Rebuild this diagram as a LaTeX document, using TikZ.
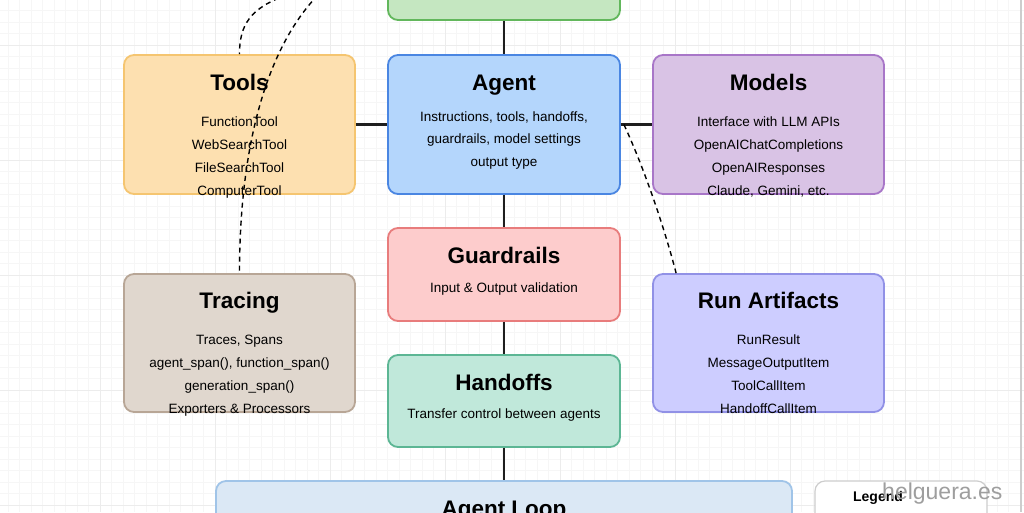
\documentclass[tikz,border=0pt]{standalone}
\usepackage{fontspec}
\setmainfont{Liberation Sans}
\usetikzlibrary{calc}
\definecolor{gridminor}{RGB}{246,246,246}
\definecolor{gridmajor}{RGB}{236,236,236}
\definecolor{greenF}{RGB}{197,231,193}\definecolor{greenD}{RGB}{98,183,92}
\definecolor{toolsF}{RGB}{253,224,176}\definecolor{toolsD}{RGB}{245,197,112}
\definecolor{agentF}{RGB}{180,214,252}\definecolor{agentD}{RGB}{74,134,226}
\definecolor{modelsF}{RGB}{217,195,229}\definecolor{modelsD}{RGB}{168,118,200}
\definecolor{guardF}{RGB}{253,204,204}\definecolor{guardD}{RGB}{232,124,124}
\definecolor{traceF}{RGB}{224,215,206}\definecolor{traceD}{RGB}{184,166,150}
\definecolor{runF}{RGB}{205,205,255}\definecolor{runD}{RGB}{145,145,230}
\definecolor{handF}{RGB}{192,232,218}\definecolor{handD}{RGB}{92,182,148}
\definecolor{loopF}{RGB}{219,232,245}\definecolor{loopD}{RGB}{160,196,232}
\definecolor{legD}{RGB}{205,205,205}
\definecolor{linkC}{RGB}{30,30,30}
\tikzset{
  box/.style={rectangle, rounded corners=10pt, line width=1.8pt, inner sep=0pt},
  ttl/.style={font=\fontsize{22.5}{26}\selectfont\bfseries, inner sep=0pt, text height=16.2pt, text depth=0pt},
  bdy/.style={font=\fontsize{13.5}{16}\selectfont, inner sep=0pt, anchor=base},
  link/.style={draw=linkC, line width=2.2pt},
  dlink/.style={draw=black, line width=1.4pt, dash pattern=on 5pt off 4pt}
}
\begin{document}
\begin{tikzpicture}[x=1pt,y=-1pt]
\useasboundingbox (0,0) rectangle (1024,512);
\clip (0,0) rectangle (1024,512);
\fill[white] (0,0) rectangle (1024,512);
% grid
\foreach \i in {0,...,90} {\draw[gridminor, line width=0.6pt] ({-15+\i*11.5},0) -- ({-15+\i*11.5},512);}
\foreach \i in {0,...,46} {\draw[gridminor, line width=0.6pt] (0,{-12.5+\i*11.5}) -- (1024,{-12.5+\i*11.5});}
\foreach \i in {0,...,9} {\draw[gridmajor, line width=0.8pt] ({-15+\i*115},0) -- ({-15+\i*115},512);}
\foreach \i in {0,...,5} {\draw[gridmajor, line width=0.8pt] (0,{45+\i*115-115}) -- (1024,{45+\i*115-115});}
\draw[legD, line width=1.5pt] (1021,0) -- (1021,512);

% boxes
\node[box, fill=greenF, draw=greenD, minimum width=232, minimum height=90] (top) at (504,-25) {};
\node[box, fill=agentF, draw=agentD, minimum width=232, minimum height=139] (agent) at (504,124.5) {};
\node[box, fill=toolsF, draw=toolsD, minimum width=231, minimum height=139] (tools) at (239.5,124.5) {};
\node[box, fill=modelsF, draw=modelsD, minimum width=231, minimum height=139] (models) at (768.5,124.5) {};
\node[box, fill=guardF, draw=guardD, minimum width=232, minimum height=93] (guard) at (504,274.5) {};
\node[box, fill=traceF, draw=traceD, minimum width=231, minimum height=138] (tracing) at (239.5,343) {};
\node[box, fill=runF, draw=runD, minimum width=231, minimum height=138] (runart) at (768.5,343) {};
\node[box, fill=handF, draw=handD, minimum width=232, minimum height=92] (handoffs) at (504,401) {};
\node[box, fill=loopF, draw=loopD, minimum width=576, minimum height=100] (loop) at (504,531) {};
\node[box, fill=white, draw=legD, line width=1.2pt, minimum width=172, minimum height=100] (legend) at (901,531) {};

% connectors
\draw[link] (top.south) -- (agent.north);
\draw[link] (tools.east) -- (agent.west);
\draw[link] (agent.east) -- (models.west);
\draw[link] (agent.south) -- (guard.north);
\draw[link] (guard.south) -- (handoffs.north);
\draw[link] (handoffs.south) -- (loop.north);

% texts
\node[ttl] (toolsT) at (239.5,82) {Tools};
\node[bdy] (toolsB1) at (239.5,126) {FunctionTool};
\node[bdy] (toolsB2) at (239.5,149) {WebSearchTool};
\node[bdy] (toolsB3) at (239.5,172) {FileSearchTool};
\node[bdy] (toolsB4) at (239.5,195) {ComputerTool};
\node[ttl] (agentT) at (504,82) {Agent};
\node[bdy] (agentB1) at (504,121) {Instructions, tools, handoffs,};
\node[bdy] (agentB2) at (504,143.5) {guardrails, model settings};
\node[bdy] (agentB3) at (504,166) {output type};
\node[ttl] (modelsT) at (768.5,82) {Models};
\node[bdy] (modelsB1) at (768.5,126) {Interface with LLM APIs};
\node[bdy] (modelsB2) at (768.5,149) {OpenAIChatCompletions};
\node[bdy] (modelsB3) at (768.5,172) {OpenAIResponses};
\node[bdy] (modelsB4) at (768.5,195) {Claude, Gemini, etc.};
\node[ttl] (guardT) at (504,255) {Guardrails};
\node[bdy] (guardB) at (504,292) {Input \& Output validation};
\node[ttl] (tracingT) at (239.5,300.5) {Tracing};
\node[bdy] (tracingB1) at (239.5,344) {Traces, Spans};
\node[bdy] (tracingB2) at (239.5,367) {agent\_span(), function\_span()};
\node[bdy] (tracingB3) at (239.5,390) {generation\_span()};
\node[bdy] (tracingB4) at (239.5,413) {Exporters \& Processors};
\node[ttl] (runT) at (768.5,300.5) {Run Artifacts};
\node[bdy] (runB1) at (768.5,344) {RunResult};
\node[bdy] (runB2) at (768.5,367) {MessageOutputItem};
\node[bdy] (runB3) at (768.5,390) {ToolCallItem};
\node[bdy] (runB4) at (768.5,413) {HandoffCallItem};
\node[ttl] (handT) at (504,382) {Handoffs};
\node[bdy] (handB) at (504,418) {Transfer control between agents};
\node[ttl] (loopT) at (504,508) {Agent Loop};
\node[font=\fontsize{14}{16}\selectfont\bfseries, inner sep=0pt] (legT) at (878,498) {Legend};
\node[font=\fontsize{23}{26}\selectfont, text=black!38, inner sep=0pt, anchor=west] (wm) at (882,494) {helguera.es};

% dashed connectors
\coordinate (src1) at (287,-5);
\coordinate (src2) at (318,-5);
\draw[dlink] (src1) .. controls (250,8) and (239.5,25) .. (tools.north);
\draw[dlink] (src2) .. controls (265,50) and (239.5,150) .. (tracing.north);
\draw[dlink] ([xshift=3]agent.east) .. controls (645,170) and (665,230) .. ([xshift=24]runart.north west);
\end{tikzpicture}
\end{document}
